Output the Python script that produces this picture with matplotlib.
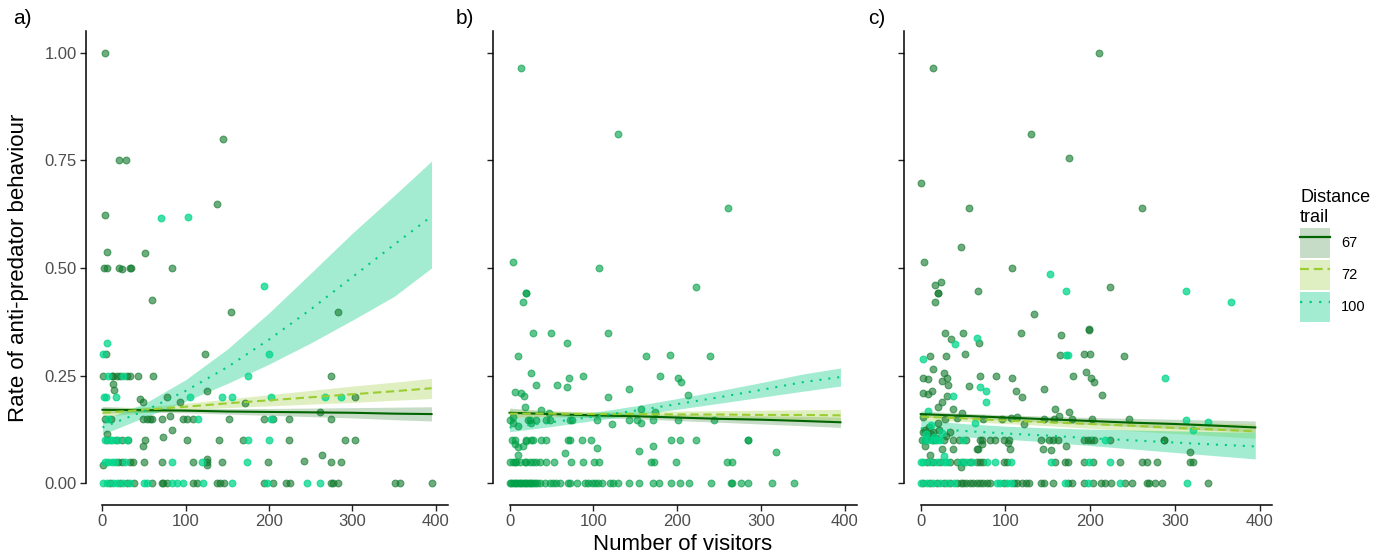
import numpy as np
import matplotlib
matplotlib.use("Agg")
import matplotlib.pyplot as plt
from matplotlib.patches import Patch
from matplotlib.lines import Line2D
from matplotlib.colors import to_rgba

plt.rcParams['font.family'] = ['Liberation Sans', 'DejaVu Sans']

# ---- data ----
X_TICKS = [0, 100, 200, 300, 400]
Y_TICKS = [0.0, 0.25, 0.5, 0.75, 1.0]
Y_TICK_LABELS = ['0.00', '0.25', '0.50', '0.75', '1.00']
DISTANCES = ['67', '72', '100']

# x positions at which the fitted trend lines were read
FIT_X = [0, 50, 100, 150, 200, 250, 300, 350, 395]

# panel a) fitted lines and 95% bands (estimate, lower, upper)
a_fit = {
    '67': ([0.171, 0.170, 0.169, 0.167, 0.166, 0.165, 0.164, 0.162, 0.161],
           [0.163, 0.165, 0.164, 0.161, 0.158, 0.155, 0.152, 0.148, 0.145],
           [0.179, 0.175, 0.174, 0.174, 0.174, 0.175, 0.176, 0.177, 0.178]),
    '72': ([0.164, 0.171, 0.178, 0.186, 0.193, 0.200, 0.207, 0.214, 0.221],
           [0.155, 0.164, 0.171, 0.176, 0.180, 0.184, 0.188, 0.193, 0.197],
           [0.173, 0.178, 0.186, 0.196, 0.206, 0.216, 0.226, 0.235, 0.244]),
    '100': ([0.130, 0.168, 0.215, 0.270, 0.334, 0.404, 0.479, 0.554, 0.620],
            [0.114, 0.153, 0.191, 0.232, 0.277, 0.326, 0.379, 0.434, 0.500],
            [0.148, 0.185, 0.241, 0.312, 0.396, 0.488, 0.581, 0.668, 0.748]),
}
b_fit = {
    '67': ([0.164, 0.161, 0.158, 0.156, 0.153, 0.150, 0.148, 0.145, 0.142],
           [0.153, 0.155, 0.153, 0.150, 0.146, 0.142, 0.138, 0.134, 0.130],
           [0.175, 0.168, 0.164, 0.162, 0.160, 0.158, 0.157, 0.156, 0.154]),
    '72': ([0.162, 0.162, 0.161, 0.161, 0.160, 0.160, 0.159, 0.159, 0.158],
           [0.153, 0.156, 0.155, 0.154, 0.152, 0.150, 0.148, 0.147, 0.145],
           [0.171, 0.168, 0.167, 0.167, 0.168, 0.169, 0.170, 0.171, 0.172]),
    '100': ([0.130, 0.142, 0.155, 0.169, 0.184, 0.200, 0.217, 0.235, 0.247],
            [0.120, 0.132, 0.146, 0.159, 0.172, 0.186, 0.200, 0.214, 0.226],
            [0.153, 0.155, 0.165, 0.180, 0.197, 0.215, 0.234, 0.254, 0.268]),
}
c_fit = {
    '67': ([0.161, 0.157, 0.153, 0.149, 0.145, 0.141, 0.138, 0.134, 0.130],
           [0.154, 0.152, 0.147, 0.142, 0.137, 0.132, 0.127, 0.123, 0.119],
           [0.168, 0.163, 0.159, 0.156, 0.153, 0.151, 0.149, 0.147, 0.145]),
    '72': ([0.155, 0.151, 0.146, 0.142, 0.138, 0.134, 0.129, 0.125, 0.121],
           [0.147, 0.144, 0.139, 0.134, 0.128, 0.122, 0.116, 0.110, 0.105],
           [0.163, 0.158, 0.154, 0.150, 0.147, 0.145, 0.142, 0.140, 0.138]),
    '100': ([0.128, 0.122, 0.116, 0.111, 0.105, 0.100, 0.095, 0.090, 0.086],
            [0.110, 0.108, 0.103, 0.096, 0.088, 0.080, 0.072, 0.064, 0.057],
            [0.148, 0.139, 0.133, 0.129, 0.126, 0.124, 0.122, 0.120, 0.119]),
}

# panel a) observations (visitors, rate)
a_dark = [(9, 0), (21, 0), (29, 0), (38, 0), (60, 0), (71, 0), (73, 0), (77, 0), (109, 0),
          (113, 0), (138, 0), (141, 0), (146, 0), (194, 0), (205, 0), (220, 0), (225, 0),
          (274, 0), (277, 0), (283, 0), (351, 0), (357, 0), (396, 0),
          (0.4, 0.042), (19, 0.05), (23, 0.05), (33, 0.05), (37, 0.05), (50, 0.05), (72, 0.05),
          (109, 0.05), (125, 0.05), (144, 0.05), (199, 0.05), (242, 0.052), (274, 0.05),
          (286, 0.05), (125, 0.057), (125, 0.042), (264, 0.066),
          (6, 0.1), (16, 0.1), (23, 0.1), (31, 0.1), (51, 0.1), (101, 0.1), (140, 0.1), (169, 0.1),
          (224, 0.1), (291, 0.1), (303, 0.1), (49, 0.088), (5, 0.115), (84, 0.125), (73, 0.107),
          (3, 0.15), (10, 0.15), (49, 0.15), (53, 0.15), (57, 0.15), (60, 0.15), (72, 0.15),
          (97, 0.15), (101, 0.15), (109, 0.15), (152, 0.15), (194, 0.15), (205, 0.15),
          (224, 0.15), (274, 0.15), (81, 0.157), (261, 0.165),
          (45, 0.195), (49, 0.188), (77, 0.2), (93, 0.188), (171, 0.186), (303, 0.2),
          (125, 0.214), (13, 0.23), (14, 0.217),
          (1, 0.25), (11, 0.25), (13, 0.25), (18, 0.25), (21, 0.25), (29, 0.25), (33, 0.25),
          (43, 0.25), (61, 0.25), (274, 0.25), (4, 0.3), (123, 0.3),
          (3, 1.0), (20, 0.75), (28, 0.75), (145, 0.8), (3, 0.624), (138, 0.649), (5, 0.538),
          (51, 0.535), (1.5, 0.5), (5, 0.5), (19.5, 0.5), (24, 0.497), (33, 0.5), (34, 0.5),
          (84, 0.5), (60, 0.425), (154.5, 0.397), (283, 0.399)]
a_mint = [(1, 0), (5, 0), (13, 0), (17, 0), (25, 0), (33, 0), (50, 0), (53, 0), (84, 0), (89, 0),
          (97, 0), (121, 0), (155, 0), (197, 0), (245, 0), (261, 0),
          (3, 0.05), (7, 0.05), (11, 0.05), (15, 0.05), (27, 0.05), (83, 0.05), (119, 0.05),
          (174, 0.05),
          (3, 0.1), (9, 0.1), (12, 0.1), (19, 0.1), (29, 0.1), (175, 0.1), (200, 0.1),
          (7, 0.15), (115, 0.15), (202, 0.15),
          (2, 0.2), (4, 0.2), (16, 0.2), (104.5, 0.2), (144, 0.2), (155, 0.2), (202, 0.2),
          (267, 0.2), (286, 0.2),
          (7, 0.25), (25, 0.25), (175, 0.25), (0.4, 0.3), (5.2, 0.327), (200, 0.3),
          (70.7, 0.616), (103, 0.618), (193.6, 0.458)]

# panel b) observations
b_pts = [(0, 0), (2, 0), (4, 0), (6, 0), (8, 0), (10, 0), (12, 0), (14, 0), (16, 0), (18, 0),
         (20, 0), (22, 0), (24, 0), (26, 0), (28, 0), (30, 0), (33, 0), (36, 0), (42, 0), (48, 0),
         (52, 0), (56, 0), (60, 0), (70, 0), (72, 0), (81, 0), (90, 0), (94, 0), (98, 0),
         (102, 0), (106, 0), (110, 0), (120, 0), (124, 0), (130, 0), (142, 0), (154, 0),
         (171, 0), (178, 0), (193, 0), (204, 0), (214, 0), (241, 0), (264, 0), (266, 0),
         (276, 0), (285, 0), (313, 0), (339, 0),
         (0, 0.05), (4, 0.05), (6, 0.05), (8, 0.05), (12, 0.05), (18, 0.05), (20, 0.05),
         (24, 0.05), (28, 0.05), (32, 0.05), (36, 0.05), (43, 0.05), (53, 0.05), (73, 0.05),
         (88, 0.05), (101, 0.05), (107, 0.05), (169, 0.05), (172, 0.05), (199, 0.05),
         (260, 0.05), (266, 0.05),
         (10, 0.065), (66, 0.07), (154, 0.076), (318, 0.074), (171, 0.088), (104, 0.083),
         (3, 0.1), (6, 0.1), (20, 0.1), (26, 0.1), (28, 0.1), (37, 0.1), (44, 0.1), (70, 0.1),
         (72, 0.1), (86, 0.1), (97, 0.1), (193, 0.1), (204, 0.1), (223, 0.1), (285, 0.1),
         (285, 0.1), (6, 0.092), (10, 0.085), (16, 0.087), (20, 0.098),
         (0, 0.148), (4, 0.14), (10, 0.133), (22, 0.148), (24, 0.148), (26, 0.14), (32, 0.148),
         (44, 0.148), (48, 0.148), (72, 0.148), (74, 0.148), (104, 0.148), (122, 0.137),
         (143, 0.148), (152, 0.148), (157, 0.14), (171, 0.148), (201, 0.148), (244, 0.148),
         (4, 0.155),
         (19, 0.177), (38, 0.171), (47, 0.163), (118, 0.2), (143, 0.22), (157, 0.172),
         (174, 0.165), (213, 0.205), (6, 0.213), (14, 0.209), (17, 0.202),
         (26, 0.256), (32, 0.228), (57, 0.228), (69, 0.225), (71, 0.245), (88, 0.25),
         (179, 0.25), (201, 0.245), (205, 0.235),
         (10, 0.296), (163, 0.296), (192, 0.297), (239, 0.296),
         (28, 0.349), (49, 0.349), (68, 0.327), (118, 0.349),
         (261, 0.64), (4, 0.513), (107, 0.499), (20, 0.441), (20, 0.441), (16, 0.422),
         (223, 0.456), (14, 0.963), (130, 0.81)]

# panel c) observations
c_dark = [(3, 0), (11, 0), (19, 0), (27, 0), (35, 0), (43, 0), (47, 0), (50, 0), (54, 0), (58, 0),
          (62, 0), (66, 0), (70, 0), (74, 0), (78, 0), (82, 0), (98, 0), (110, 0), (114, 0),
          (120, 0), (124, 0), (128, 0), (142, 0), (146, 0), (156, 0), (174, 0), (179, 0),
          (193, 0), (203, 0), (213, 0), (217, 0), (225, 0), (241, 0), (249, 0), (267, 0),
          (269, 0), (277, 0), (285, 0), (339, 0),
          (7, 0.05), (15, 0.05), (23, 0.05), (35, 0.05), (43, 0.05), (50, 0.05), (58, 0.05),
          (66, 0.05), (70, 0.05), (74, 0.05), (98, 0.05), (102, 0.05), (158, 0.05), (170, 0.05),
          (174, 0.05), (193, 0.05), (203, 0.05), (235, 0.05), (261, 0.05), (267, 0.05),
          (279, 0.05), (318, 0.05), (322, 0.05),
          (47, 0.039), (11, 0.065), (38, 0.079), (66, 0.08), (144, 0.08), (154, 0.077),
          (171, 0.088), (318, 0.074), (25, 0.08),
          (1, 0.1), (5, 0.1), (13, 0.1), (17, 0.1), (27, 0.1), (38, 0.1), (45, 0.1), (54, 0.1),
          (70, 0.1), (72, 0.1), (82, 0.1), (88, 0.1), (98, 0.1), (104, 0.1), (142, 0.1),
          (152, 0.1), (156, 0.1), (162, 0.1), (193, 0.1), (197, 0.1), (201, 0.1), (205, 0.1),
          (223, 0.1), (287, 0.1), (287, 0.1),
          (5, 0.088), (72, 0.092), (68, 0.08), (105, 0.08), (103, 0.094),
          (3, 0.12), (8, 0.11), (12, 0.115), (18, 0.105), (22, 0.125), (30, 0.11), (35, 0.12),
          (10, 0.13), (15, 0.12), (20, 0.14), (5, 0.125),
          (3, 0.155), (28.6, 0.15), (42.5, 0.153), (48.5, 0.163), (74, 0.15), (96, 0.15),
          (106, 0.152), (114, 0.155), (122, 0.137), (145, 0.15), (157.5, 0.15), (163.5, 0.156),
          (175, 0.165), (179, 0.15), (202, 0.15), (245.6, 0.15), (38.5, 0.173),
          (3, 0.209), (9, 0.208), (13, 0.215), (30.5, 0.202), (24.6, 0.19), (20, 0.177),
          (113, 0.215), (119, 0.2), (145, 0.22), (214, 0.205), (158.3, 0.173), (57.5, 0.227),
          (69.4, 0.25),
          (89, 0.25), (108, 0.245), (180, 0.25), (195, 0.258), (201, 0.245), (205, 0.235),
          (3, 0.245), (9, 0.243), (14.7, 0.265), (27, 0.256), (30.5, 0.245), (24.6, 0.237),
          (32.5, 0.228),
          (11, 0.296), (30, 0.296), (52.4, 0.3), (164.7, 0.298), (192.5, 0.3), (200.4, 0.3),
          (240, 0.296), (35.7, 0.335), (28.6, 0.35), (49.6, 0.349), (118.6, 0.349),
          (166, 0.345), (69, 0.327), (198.4, 0.355),
          (175, 0.756), (0.4, 0.697), (56.7, 0.64), (261, 0.64), (47.6, 0.548), (4.4, 0.513),
          (108, 0.499), (223.4, 0.457), (16.3, 0.461), (23.4, 0.468), (20.6, 0.441),
          (20.6, 0.441), (16.3, 0.422), (67.5, 0.446), (133.7, 0.394), (199.2, 0.359),
          (210, 0.999), (14.3, 0.963), (129.8, 0.81)]
c_mint = [(0, 0), (7, 0), (15, 0), (23, 0), (31, 0), (39, 0), (90, 0), (94, 0), (102, 0),
          (106, 0), (170, 0), (197, 0), (235, 0), (314, 0),
          (0, 0.05), (3, 0.05), (11, 0.05), (19, 0.05), (27, 0.05), (31, 0.05), (47, 0.05),
          (54, 0.05), (60, 0.05), (78, 0.05), (88, 0.05), (106, 0.05), (154, 0.05), (199, 0.05),
          (224, 0.05), (27, 0.064),
          (9, 0.1), (15, 0.1), (19, 0.1), (23, 0.1), (50, 0.1), (217, 0.1),
          (6, 0.115), (16, 0.108), (25, 0.118), (4, 0.1),
          (9, 0.169), (64.3, 0.14), (313.5, 0.148), (339, 0.143), (322, 0.124), (12, 0.135),
          (37.7, 0.202), (77.3, 0.214), (77.3, 0.188), (69.4, 0.225), (288.5, 0.245),
          (3, 0.289), (171.4, 0.298), (173.4, 0.298), (40.5, 0.323), (66.3, 0.337),
          (153, 0.486), (171.8, 0.446), (313.5, 0.446), (366, 0.421)]

# ---- styling ----
LINE_COL = {'67': '#006400', '72': '#9ACD32', '100': '#00CC80'}
BAND_ALPHA = {'67': 0.22, '72': 0.3, '100': 0.36}
LINE_STYLE = {'67': '-', '72': (0, (4, 2.2)), '100': (0, (1, 3.3))}
DARK_PT = '#137a2e'
MINT_PT = '#00d68a'
MID_PT = '#00a048'

fig = plt.figure(figsize=(13.89, 5.6), dpi=100)
W, H = 1389, 560
bottom, height = 1 - 505 / H, (505 - 31) / H
lefts = [86, 493, 904]
widths = [362, 364, 368]
fits = [a_fit, b_fit, c_fit]
point_sets = [[(a_dark, DARK_PT, 0.62), (a_mint, MINT_PT, 0.75)],
              [(b_pts, MID_PT, 0.62)],
              [(c_dark, DARK_PT, 0.62), (c_mint, MINT_PT, 0.75)]]

xlim = (-19.75, 414.75)
ylim = (-0.05, 1.05)

for i in range(3):
    ax = fig.add_axes([lefts[i] / W, bottom, widths[i] / W, height])
    fit = fits[i]
    for d in DISTANCES:
        est, lo, hi = fit[d]
        ax.fill_between(FIT_X, lo, hi, color=LINE_COL[d], alpha=BAND_ALPHA[d], lw=0, zorder=1)
    for pts, col, al in point_sets[i]:
        px = np.array([p[0] for p in pts])
        py = np.array([p[1] for p in pts])
        ax.scatter(px, py, s=24, c=col, alpha=al, edgecolors=col, linewidths=0.8, zorder=2)
    for d in DISTANCES:
        est, lo, hi = fit[d]
        ax.plot(FIT_X, est, color=LINE_COL[d], lw=1.5, linestyle=LINE_STYLE[d], zorder=3)

    ax.set_xlim(*xlim)
    ax.set_ylim(*ylim)
    for s in ['top', 'right']:
        ax.spines[s].set_visible(False)
    ax.spines['left'].set_bounds(0, 1.05)
    ax.spines['bottom'].set_bounds(0, 414.75)
    ax.spines['left'].set_linewidth(1.1)
    ax.spines['bottom'].set_linewidth(1.1)
    ax.set_xticks(X_TICKS)
    ax.set_yticks(Y_TICKS)
    ax.tick_params(direction='out', length=4.3, width=1.0, color='#222222',
                   labelcolor='#4d4d4d', labelsize=12, pad=2.5)
    if i == 0:
        ax.set_yticklabels(Y_TICK_LABELS)
    else:
        ax.tick_params(labelleft=False)
    ax.set_facecolor('none')

for lab, xp in zip(['a)', 'b)', 'c)'], [13, 456, 868]):
    fig.text(xp / W, 1 - 19 / H, lab, fontsize=15, va='center', ha='left')

fig.text(19 / W, 1 - 268 / H, 'Rate of anti-predator behaviour', rotation=90,
         fontsize=16, va='center', ha='center')
fig.text(683 / W, 1 - 545 / H, 'Number of visitors', fontsize=16, va='center', ha='center')

handles = []
for d in DISTANCES:
    band = Patch(facecolor=to_rgba(LINE_COL[d], BAND_ALPHA[d]), edgecolor='none')
    line = Line2D([], [], color=LINE_COL[d], lw=1.6, linestyle=LINE_STYLE[d])
    handles.append((band, line))
leg = fig.legend(handles, DISTANCES, loc='upper left', bbox_to_anchor=(1300 / W, 1 - 189 / H),
                 frameon=False, title='Distance\ntrail', title_fontsize=13, fontsize=10.5,
                 handlelength=2.05, handleheight=2.8, labelspacing=0.14, handletextpad=0.75,
                 borderpad=0, borderaxespad=0)
leg._legend_box.align = 'left'

fig.savefig('out.png', dpi=100)
